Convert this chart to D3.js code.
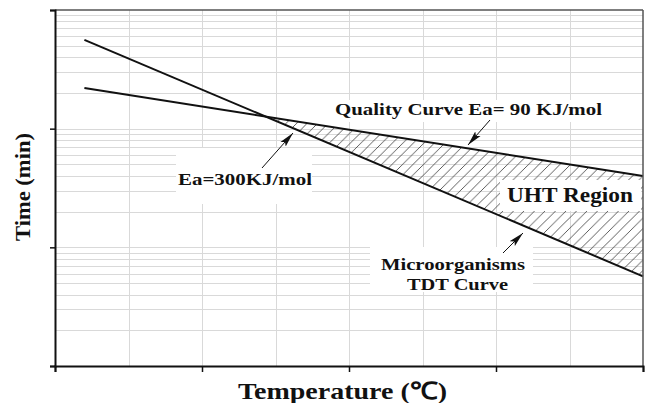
<!DOCTYPE html>
<html>
<head>
<meta charset="utf-8">
<script src="https://cdn.jsdelivr.net/npm/d3@7"></script>
<style>
html,body{margin:0;padding:0;background:#fff;}
svg{display:block;}
text{font-family:"Liberation Serif","Times New Roman",serif;font-weight:bold;fill:#111;}
</style>
</head>
<body>
<svg id="chart" width="645" height="403"></svg>
<script>
// ---- data ----
const xTicks = [100, 110, 120, 130, 140];
const xGrid = [105, 110, 115, 120, 125, 130, 135];
const yTicks = [1, 10, 100, 1000];
const temps = [102, 140];
const tdtTime = [560, 5.7];      // Microorganisms TDT curve (Ea=300KJ/mol)
const qualityTime = [220, 40];   // Quality curve (Ea=90 KJ/mol)

const W = 645, H = 403;
const m = {left: 55, right: 2, top: 10, bottom: 37};
const svg = d3.select("#chart");

const x = d3.scaleLinear().domain([100, 140]).range([m.left, W - m.right]);
const y = d3.scaleLog().domain([1, 1000]).range([H - m.bottom, m.top]);

// grid values for log scale
const yGrid = [];
[1, 10, 100].forEach(d => { for (let k = 1; k <= 9; k++) { const v = d * k; if (v > 1) yGrid.push(v); } });

const defs = svg.append("defs");
const pat = defs.append("pattern").attr("id", "hatch").attr("patternUnits", "userSpaceOnUse")
  .attr("width", 10.5).attr("height", 10.5);
pat.append("path").attr("d", "M-2,2 l4,-4 M0,10.5 l10.5,-10.5 M8.5,12.5 l4,-4")
  .attr("stroke", "#333").attr("stroke-width", 0.8);
defs.append("marker").attr("id", "arrow").attr("markerUnits", "userSpaceOnUse")
  .attr("markerWidth", 16).attr("markerHeight", 8).attr("refX", 15).attr("refY", 4)
  .attr("orient", "auto")
  .append("path").attr("d", "M0,0.5 L15,4 L0,7.5 L3,4 Z").attr("fill", "#111");

// gridlines
const grid = svg.append("g").attr("stroke", "#d9d9d9").attr("stroke-width", 1);
grid.selectAll(".h").data(yGrid).join("line")
  .attr("x1", x(100)).attr("x2", x(140))
  .attr("y1", d => Math.round(y(d)) + 0.5).attr("y2", d => Math.round(y(d)) + 0.5);
grid.selectAll(".v").data(xGrid).join("line")
  .attr("y1", y(1)).attr("y2", y(1000))
  .attr("x1", d => Math.round(x(d)) + 0.5).attr("x2", d => Math.round(x(d)) + 0.5);

// hatched UHT region between intersection and right end
const p1 = temps.map((t, i) => [x(t), y(tdtTime[i])]);
const p2 = temps.map((t, i) => [x(t), y(qualityTime[i])]);
function intersect(a, b) {
  const [[x1, y1], [x2, y2]] = a, [[x3, y3], [x4, y4]] = b;
  const den = (x1 - x2) * (y3 - y4) - (y1 - y2) * (x3 - x4);
  const t = ((x1 - x3) * (y3 - y4) - (y1 - y3) * (x3 - x4)) / den;
  return [x1 + t * (x2 - x1), y1 + t * (y2 - y1)];
}
const ip = intersect(p1, p2);
svg.append("path")
  .attr("d", d3.line()([ip, p2[1], p1[1]]) + "Z")
  .attr("fill", "url(#hatch)").attr("stroke", "none");

// white label boxes
const boxes = [
  [176, 148, 136, 56],
  [370, 247, 163, 45],
  [500, 180, 141, 31],
  [333, 100, 272, 22]
];
svg.append("g").selectAll("rect").data(boxes).join("rect")
  .attr("x", d => d[0]).attr("y", d => d[1]).attr("width", d => d[2]).attr("height", d => d[3])
  .attr("fill", "#fff");

// curves
const line = d3.line().x(d => x(d[0])).y(d => y(d[1]));
svg.append("path").datum(temps.map((t, i) => [t, tdtTime[i]])).attr("d", line)
  .attr("fill", "none").attr("stroke", "#111").attr("stroke-width", 2);
svg.append("path").datum(temps.map((t, i) => [t, qualityTime[i]])).attr("d", line)
  .attr("fill", "none").attr("stroke", "#111").attr("stroke-width", 2);

// border (top/right)
svg.append("line").attr("x1", x(100)).attr("x2", x(140)).attr("y1", y(1000)).attr("y2", y(1000))
  .attr("stroke", "#555").attr("stroke-width", 1.5);
svg.append("line").attr("x1", x(140)).attr("x2", x(140)).attr("y1", y(1000)).attr("y2", y(1))
  .attr("stroke", "#555").attr("stroke-width", 1.5);

// axes
const xAxis = d3.axisBottom(x).tickValues(xTicks).tickSize(6).tickFormat("");
const yAxis = d3.axisLeft(y).tickValues(yTicks).tickSize(5).tickFormat("");
const gx = svg.append("g").attr("transform", `translate(0,${y(1)})`).call(xAxis);
const gy = svg.append("g").attr("transform", `translate(${x(100)},0)`).call(yAxis);
[gx, gy].forEach(g => {
  g.select(".domain").attr("stroke", "#111").attr("stroke-width", 2);
  g.selectAll(".tick line").attr("stroke", "#111").attr("stroke-width", 1.5);
});

// arrows
const arrows = [
  [262, 168, 293, 133],
  [490, 120, 468, 145],
  [503, 253, 523, 233]
];
svg.append("g").selectAll("line").data(arrows).join("line")
  .attr("x1", d => d[0]).attr("y1", d => d[1]).attr("x2", d => d[2]).attr("y2", d => d[3])
  .attr("stroke", "#111").attr("stroke-width", 1).attr("marker-end", "url(#arrow)");

// labels
const labels = [
  ["Quality Curve Ea= 90 KJ/mol", 335, 115, 17, 267],
  ["Ea=300KJ/mol", 178, 185, 17, 134],
  ["UHT Region", 507, 202, 21, 126],
  ["Microorganisms", 381, 270, 17, 144],
  ["TDT Curve", 407, 290, 17, 101]
];
svg.append("g").selectAll("text").data(labels).join("text")
  .attr("x", d => d[1]).attr("y", d => d[2])
  .attr("font-size", d => d[3] + "px")
  .attr("textLength", d => d[4]).attr("lengthAdjust", "spacingAndGlyphs")
  .text(d => d[0]);

svg.append("text").attr("x", 238).attr("y", 399).attr("font-size", "24px")
  .attr("textLength", 209).attr("lengthAdjust", "spacingAndGlyphs")
  .text("Temperature (℃)");
svg.append("text").attr("transform", "translate(30,241) rotate(-90)")
  .attr("font-size", "22px").attr("textLength", 108).attr("lengthAdjust", "spacingAndGlyphs")
  .text("Time (min)");
</script>
</body>
</html>
